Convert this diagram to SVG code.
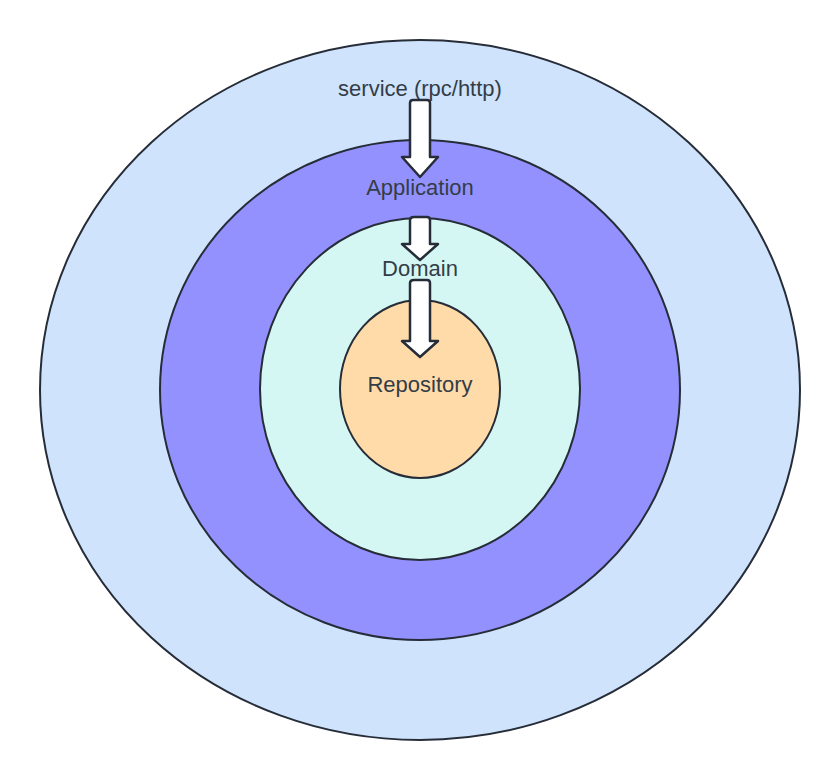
<svg xmlns="http://www.w3.org/2000/svg" width="840" height="780" viewBox="0 0 840 780">
<style>
.ring{stroke:#262d38;stroke-width:2}
.lbl{font-family:"Liberation Sans",Arial,sans-serif;font-size:22px;fill:#333d47;text-anchor:middle}
.arr{fill:#ffffff;stroke:#262d38;stroke-width:2.5;stroke-linejoin:round}
</style>
<rect width="840" height="780" fill="#ffffff"/>
<g id="service">
<ellipse class="ring" cx="420" cy="390" rx="380" ry="350" fill="#cfe3fd"/>
<text class="lbl" x="420" y="96">service (rpc/http)</text>
</g>
<g id="application">
<ellipse class="ring" cx="420" cy="390" rx="260" ry="250" fill="#9391fd"/>
<text class="lbl" x="420" y="195">Application</text>
</g>
<g id="domain">
<ellipse class="ring" cx="420" cy="389" rx="160" ry="171" fill="#d5f7f3"/>
<text class="lbl" x="420" y="276">Domain</text>
</g>
<g id="repository">
<ellipse class="ring" cx="420" cy="389" rx="80" ry="89" fill="#ffdba9"/>
<text class="lbl" x="420" y="392">Repository</text>
</g>
<g id="connectors">
<path class="arr" d="M413,100 H427 Q430,100 430,103 V157 H438 L420,177 L402,157 H410 V103 Q410,100 413,100 Z"/>
<path class="arr" d="M414,217 H427 Q430,217 430,220 V244 H438 L420,260 L402,244 H410 V220 Q410,217 414,217 Z"/>
<path class="arr" d="M414,280 H427 Q430,280 430,283 V341 H438 L420,357 L402,341 H410 V283 Q410,280 414,280 Z"/>
</g>
</svg>
